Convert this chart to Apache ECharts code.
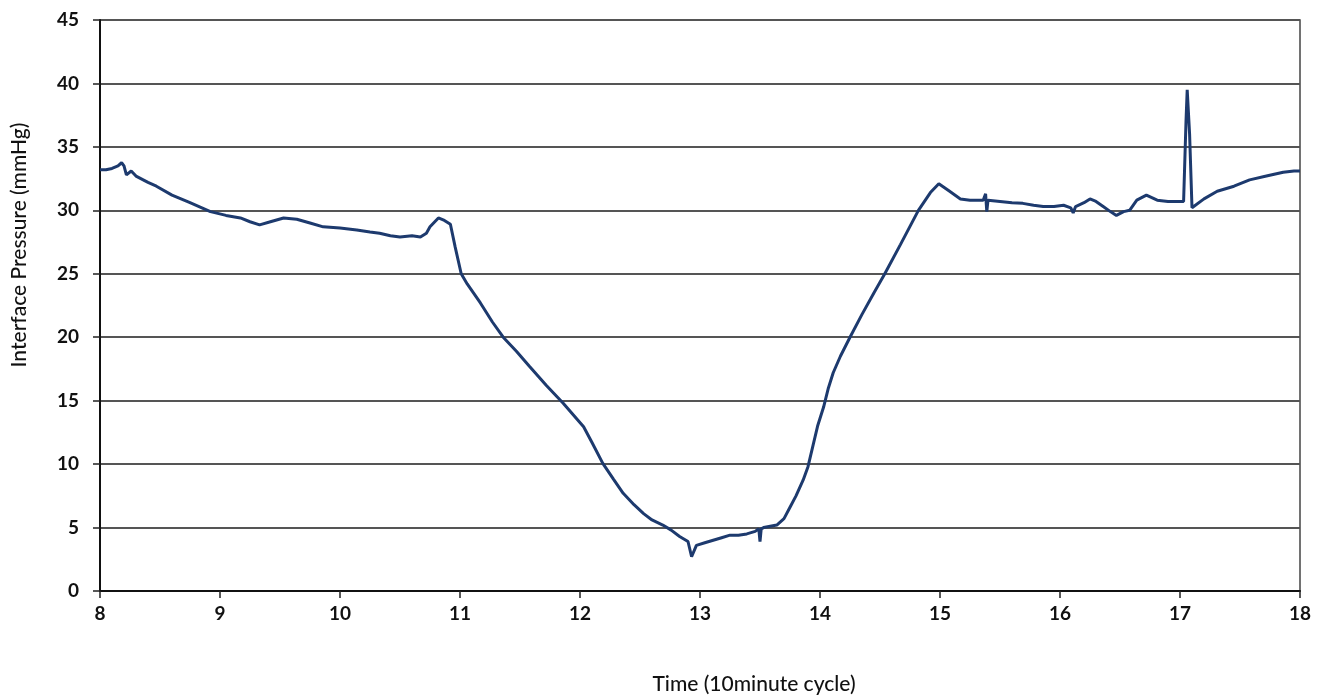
<!DOCTYPE html>
<html>
<head>
<meta charset="utf-8">
<script src="https://cdn.jsdelivr.net/npm/echarts@6/dist/echarts.min.js"></script>
<style>
html,body{margin:0;padding:0;background:#fff;}
#chart{width:1326px;height:697px;}
</style>
</head>
<body>
<div id="chart"></div>
<script>
const time = [8.00,8.05,8.10,8.15,8.18,8.20,8.22,8.26,8.30,8.40,8.47,8.60,8.75,8.92,9.05,9.17,9.25,9.33,9.42,9.53,9.64,9.75,9.86,10.00,10.14,10.25,10.33,10.42,10.50,10.60,10.67,10.72,10.75,10.82,10.87,10.92,10.96,11.01,11.06,11.17,11.27,11.36,11.47,11.58,11.72,11.86,12.03,12.10,12.19,12.28,12.36,12.45,12.53,12.60,12.69,12.76,12.83,12.90,12.93,12.97,13.04,13.11,13.18,13.25,13.32,13.39,13.46,13.49,13.50,13.51,13.53,13.64,13.70,13.75,13.80,13.86,13.90,13.94,13.98,14.03,14.07,14.11,14.17,14.25,14.35,14.45,14.54,14.67,14.82,14.92,14.99,15.08,15.17,15.25,15.36,15.38,15.39,15.40,15.50,15.60,15.69,15.78,15.86,15.95,16.03,16.09,16.11,16.13,16.20,16.25,16.30,16.36,16.42,16.47,16.53,16.58,16.64,16.72,16.81,16.90,17.03,17.05,17.06,17.08,17.10,17.11,17.20,17.31,17.45,17.58,17.72,17.86,17.95,18.00];
const pressure = [33.2,33.2,33.3,33.5,33.75,33.5,32.8,33.1,32.7,32.2,31.9,31.2,30.6,29.9,29.6,29.4,29.1,28.85,29.1,29.4,29.3,29.0,28.7,28.6,28.45,28.3,28.2,28.0,27.9,28.0,27.9,28.2,28.7,29.4,29.2,28.9,27.1,25.0,24.2,22.7,21.2,20.0,18.9,17.7,16.2,14.8,12.95,11.7,10.06,8.8,7.7,6.8,6.1,5.6,5.2,4.8,4.3,3.9,2.7,3.6,3.8,4.0,4.2,4.4,4.4,4.5,4.7,4.9,3.9,4.9,5.0,5.2,5.7,6.6,7.5,8.75,9.8,11.4,13.0,14.5,16.0,17.2,18.5,20.0,21.8,23.5,25.0,27.3,30.0,31.4,32.1,31.5,30.9,30.8,30.8,31.3,29.9,30.8,30.7,30.6,30.55,30.4,30.3,30.3,30.4,30.2,29.8,30.3,30.6,30.9,30.7,30.3,29.9,29.6,29.9,30.0,30.8,31.2,30.8,30.7,30.7,37.0,39.5,36.0,30.2,30.3,30.9,31.5,31.9,32.4,32.7,33.0,33.1,33.1];
const xTitle = 'Time (10minute cycle)';
const yTitle = 'Interface Pressure (mmHg)';

const seriesData = time.map((t, i) => [t, pressure[i]]);
const chart = echarts.init(document.getElementById('chart'));
const labelFont = {fontFamily: 'Lato', fontWeight: 'bold', fontSize: 19, color: '#111'};
chart.setOption({
  animation: false,
  backgroundColor: '#fff',
  grid: {left: 100, right: 26, top: 20, bottom: 106, show: true, borderColor: '#444', borderWidth: 1.5},
  xAxis: {
    type: 'value', min: 8, max: 18, interval: 1,
    axisLine: {show: true, onZero: false, lineStyle: {color: '#111', width: 2}},
    axisTick: {show: true, length: 7, lineStyle: {color: '#222', width: 1.5}},
    axisLabel: Object.assign({margin: 13}, labelFont),
    splitLine: {show: false}
  },
  yAxis: {
    type: 'value', min: 0, max: 45, interval: 5,
    axisLine: {show: true, lineStyle: {color: '#111', width: 2}},
    axisTick: {show: true, length: 7, lineStyle: {color: '#222', width: 1.5}},
    axisLabel: Object.assign({margin: 21}, labelFont),
    splitLine: {show: true, lineStyle: {color: '#555', width: 2}}
  },
  graphic: [
    {type: 'text', x: 754, y: 684, style: {text: xTitle, font: '500 21px Lato', fill: '#111', align: 'center', verticalAlign: 'middle', letterSpacing: 0.6}},
    {type: 'text', x: 19, y: 245, rotation: Math.PI / 2, style: {text: yTitle, font: '500 21px Lato', fill: '#111', align: 'center', verticalAlign: 'middle', letterSpacing: 0.6}}
  ],
  series: [{
    type: 'line', data: seriesData, showSymbol: false, smooth: false,
    lineStyle: {color: '#1d3a6e', width: 3}
  }]
});
</script>
</body>
</html>
